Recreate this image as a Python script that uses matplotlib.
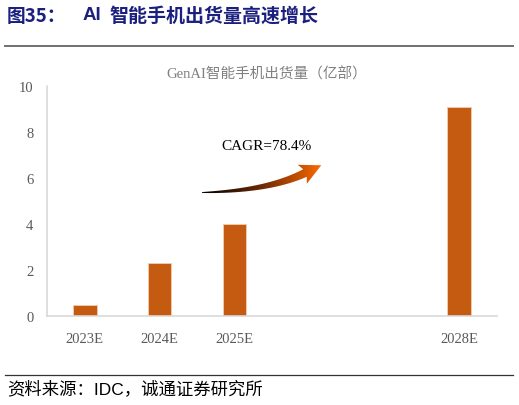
import numpy as np
import matplotlib
matplotlib.use("Agg")
import matplotlib.pyplot as plt
from matplotlib.path import Path
from matplotlib.patches import PathPatch
from matplotlib.colors import LinearSegmentedColormap

categories = ["2023E", "2024E", "2025E", "", "", "2028E"]
shipments = [0.47, 2.30, 4.03, 0, 0, 9.11]
yticks = [0, 2, 4, 6, 8, 10]

CJK = ["Noto Sans CJK SC", "DejaVu Sans"]
SANS = ["Liberation Sans", "Noto Sans CJK SC"]
SERIF = ["Liberation Serif", "Noto Sans CJK SC"]
NAVY = "#1B1F7E"
BAR = "#C55A11"
GRAY = "#595959"

W, H = 519, 406
fig = plt.figure(figsize=(W / 100, H / 100), dpi=100)

ax = fig.add_axes([47.3 / W, 88.7 / H, 449.4 / W, 230 / H])
x = np.arange(len(categories))
vals = np.array(shipments)
mask = vals > 0
ax.bar(x[mask], vals[mask], width=0.315, color=BAR, edgecolor="#F2C9A9",
       linewidth=0.7, zorder=2)
ax.set_xlim(-0.5, len(categories) - 0.5)
ax.set_ylim(0, 10)
ax.set_yticks(yticks)
ax.set_yticklabels([str(v) for v in yticks], family=SERIF, fontsize=10.5, color=GRAY)
ax.set_xticks(x)
ax.set_xticklabels(categories, family=SERIF, fontsize=10.5, color=GRAY)
ax.tick_params(length=0)
ax.tick_params(axis="y", pad=10)
ax.tick_params(axis="x", pad=11)
for s in ("top", "right"):
    ax.spines[s].set_visible(False)
for s in ("left", "bottom"):
    ax.spines[s].set_color("#D9D9D9")
    ax.spines[s].set_linewidth(1.2)

# overlay in pixel coordinates for header, footer and the CAGR arrow
ov = fig.add_axes([0, 0, 1, 1], zorder=5)
ov.set_xlim(0, W)
ov.set_ylim(H, 0)
ov.axis("off")
ov.patch.set_alpha(0)

ov.text(7, 16, "图35：", family=CJK, fontsize=13.5,
        fontweight="bold", color=NAVY, va="center", ha="left")
ov.text(83, 16, "AI", family=SANS, fontsize=13.5,
        fontweight="bold", color=NAVY, va="center", ha="left")
ov.text(109, 16, "智能手机出货量高速增长", family=CJK, fontsize=13.7,
        fontweight="bold", color=NAVY, va="center", ha="left")
ov.plot([5, 513], [47, 47], color="#707070", lw=1.4)
ov.text(267, 74, "GenAI智能手机出货量（亿部）", family=SERIF, fontsize=10.5,
        color="#808080", ha="center", va="center")
ov.plot([5, 513], [376, 376], color="#333333", lw=0.9)
ov.text(7, 389, "资料来源：IDC，诚通证券研究所", family=SANS, fontsize=12.5,
        color="black", ha="left", va="center")

ov.text(267, 147, "CAGR=78.4%", family=SERIF, fontsize=11, color="black",
        ha="center", va="center")

# curved, tapering arrow with a black-to-orange gradient
p0, c, p2 = np.array([202, 193.5]), np.array([268, 192]), np.array([305, 174])
t = np.linspace(0, 1, 40)[:, None]
pts = (1 - t) ** 2 * p0 + 2 * (1 - t) * t * c + t ** 2 * p2
d = np.gradient(pts, axis=0)
d /= np.linalg.norm(d, axis=1)[:, None]
nrm = np.column_stack([d[:, 1], -d[:, 0]])
half = (0.4 + 3.8 * t[:, 0] ** 0.8)[:, None]
upper = pts + nrm * half
lower = pts - nrm * half
tip = p2 + d[-1] * 18
barb_u = p2 - d[-1] * 3 + nrm[-1] * 10.5
barb_l = p2 - d[-1] * 3 - nrm[-1] * 10.5
outline = np.vstack([upper, barb_u, tip, barb_l, lower[::-1], upper[:1]])
patch = PathPatch(Path(outline), facecolor="none", edgecolor="none")
ov.add_patch(patch)
cmap = LinearSegmentedColormap.from_list("arr", ["#000000", "#6E2A05", "#FF6A00"])
grad = np.linspace(0, 1, 256)[None, :]
im = ov.imshow(grad, cmap=cmap, extent=[202, 323, 196, 160], aspect="auto",
               zorder=6, interpolation="bilinear")
im.set_clip_path(patch)
ov.set_xlim(0, W)
ov.set_ylim(H, 0)

fig.savefig("out.png", dpi=100)
